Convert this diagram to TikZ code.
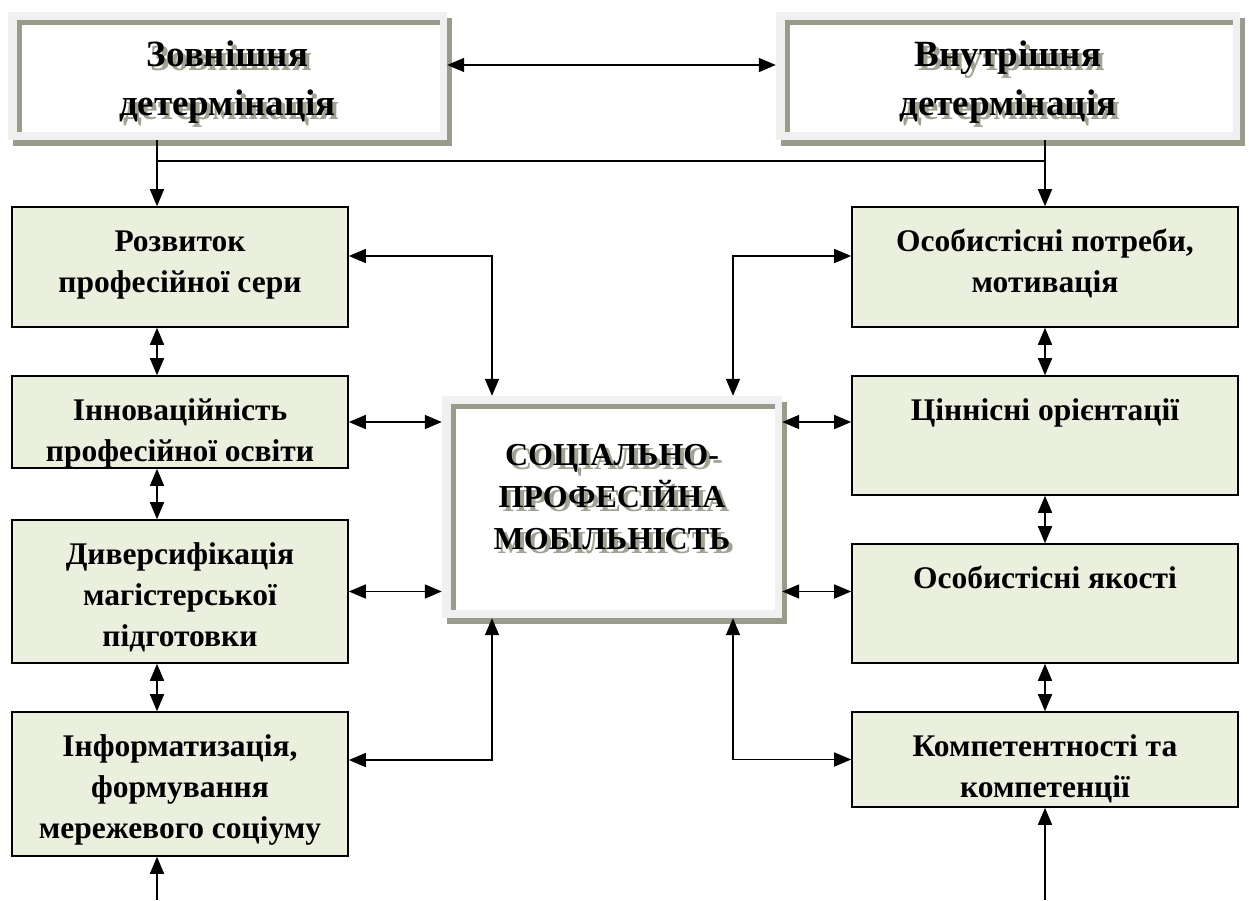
\documentclass[tikz,border=0pt]{standalone}
\usepackage{fontspec}
\setmainfont{Liberation Serif}
\usepackage{tikz}
\usetikzlibrary{arrows.meta,shadows}

\definecolor{boxfill}{HTML}{EBF0DE}
\definecolor{framegray}{HTML}{F0F0F0}
\definecolor{framedark}{HTML}{989C8A}
\definecolor{textshade}{HTML}{A2A292}

% text of a box, top aligned: width, height, first baseline, lines
\newcommand{\boxtext}[4]{\parbox[c][#2pt][t]{#1pt}{\centering\rule{0pt}{#3pt}#4}}
% text with a grey shadow behind it
\newcommand{\shtext}[1]{\rlap{\hspace*{4pt}\raisebox{-4pt}{\textcolor{textshade}{\begin{tabular}[t]{@{}c@{}}#1\end{tabular}}}}\begin{tabular}[t]{@{}c@{}}#1\end{tabular}}

\tikzset{
	sidebox/.style={draw=black, line width=1.6pt, fill=boxfill, inner sep=0pt,
		font=\bfseries\fontsize{31.5}{41}\selectfont},
	framebox/.style={inner sep=0pt, fill=framegray,
		drop shadow={shadow xshift=5pt, shadow yshift=-6pt, fill=framedark, opacity=1},
		path picture={
			\fill[white] ([shift={(9pt,-8pt)}]path picture bounding box.north west) rectangle ([shift={(-7pt,8pt)}]path picture bounding box.south east);
			\fill[framedark] ([shift={(9pt,-8pt)}]path picture bounding box.north west) rectangle ([shift={(-7pt,-13pt)}]path picture bounding box.north east);
			\fill[framedark] ([shift={(9pt,-8pt)}]path picture bounding box.north west) rectangle ([shift={(14pt,8pt)}]path picture bounding box.south west);
		}},
	arr/.style={-{Triangle[length=17pt,width=14pt]}, line width=1.6pt},
	biarr/.style={{Triangle[length=17pt,width=14pt]}-{Triangle[length=17pt,width=14pt]}, line width=1.6pt}
}

\begin{document}
\begin{tikzpicture}[x=1pt,y=-1pt]
	\useasboundingbox (0,0) rectangle (1249,900);
	% Determination boxes
	\node[framebox, font=\bfseries\fontsize{37}{49}\selectfont] (ext) at (227.5,76) {\boxtext{439}{128}{54}{\shtext{Зовнішня\\детермінація}}};
	\node[framebox, font=\bfseries\fontsize{37}{49}\selectfont] (int) at (1008,76) {\boxtext{464}{128}{54}{\shtext{Внутрішня\\детермінація}}};
	% Central box
	\node[framebox, font=\bfseries\fontsize{32}{42}\selectfont] (soc) at (612,507) {\boxtext{340}{222}{69}{\shtext{СОЦІАЛЬНО-\\ПРОФЕСІЙНА\\МОБІЛЬНІСТЬ}}};
	% Left column
	\node[sidebox] (l1) at (180,267) {\boxtext{336}{120}{44}{Розвиток\\професійної сери}};
	\node[sidebox] (l2) at (180,422) {\boxtext{336}{92}{44}{Інноваційність\\професійної освіти}};
	\node[sidebox] (l3) at (180,591.5) {\boxtext{336}{143}{44}{Диверсифікація\\магістерської\\підготовки}};
	\node[sidebox] (l4) at (180,784) {\boxtext{336}{144}{44}{Інформатизація,\\формування\\мережевого соціуму}};
	% Right column
	\node[sidebox] (r1) at (1045,267) {\boxtext{386}{120}{44}{Особистісні потреби,\\мотивація}};
	\node[sidebox] (r2) at (1045,435.5) {\boxtext{386}{119}{44}{Ціннісні орієнтації}};
	\node[sidebox] (r3) at (1045,603.5) {\boxtext{386}{119}{44}{Особистісні якості}};
	\node[sidebox] (r4) at (1045,759.5) {\boxtext{386}{95}{44}{Компетентності та\\компетенції}};
	% Top connections
	\draw[biarr] ([yshift=11pt]ext.east) -- ([yshift=11pt]int.west);
	\coordinate (ljoin) at (157,161);
	\coordinate (rjoin) at (1045,161);
	\draw[line width=1.6pt] (ljoin) -- (rjoin);
	\draw[arr] (ext.south -| ljoin) -- (ljoin |- l1.north);
	\draw[arr] (int.south -| rjoin) -- (r1.north);
	% Links to the central box
	\draw[biarr] ([yshift=11pt]l1.east) -| ([xshift=-120pt]soc.north);
	\draw[biarr] ([yshift=11pt]r1.west) -| ([xshift=121pt]soc.north);
	\draw[biarr] (l2.east) -- (soc.west |- l2.east);
	\draw[biarr] (l3.east) -- (soc.west |- l3.east);
	\draw[biarr] (r2.west |- l2.east) -- (soc.east |- l2.east);
	\draw[biarr] (r3.west |- l3.east) -- (soc.east |- l3.east);
	\draw[biarr] ([yshift=24pt]l4.east) -| ([xshift=-120pt]soc.south);
	\draw[biarr] (r4.west) -| ([xshift=121pt]soc.south);
	% Links inside the columns
	\foreach \a/\b in {l1/l2,l2/l3,l3/l4}
		\draw[biarr] ([xshift=-23pt]\a.south) -- ([xshift=-23pt]\b.north);
	\foreach \a/\b in {r1/r2,r2/r3,r3/r4}
		\draw[biarr] (\a.south) -- (\b.north);
	% Inputs from below
	\coordinate (lin) at (157,900);
	\coordinate (rin) at (1045,900);
	\draw[arr] (lin) -- (lin |- l4.south);
	\draw[arr] (rin) -- (r4.south);
\end{tikzpicture}
\end{document}
